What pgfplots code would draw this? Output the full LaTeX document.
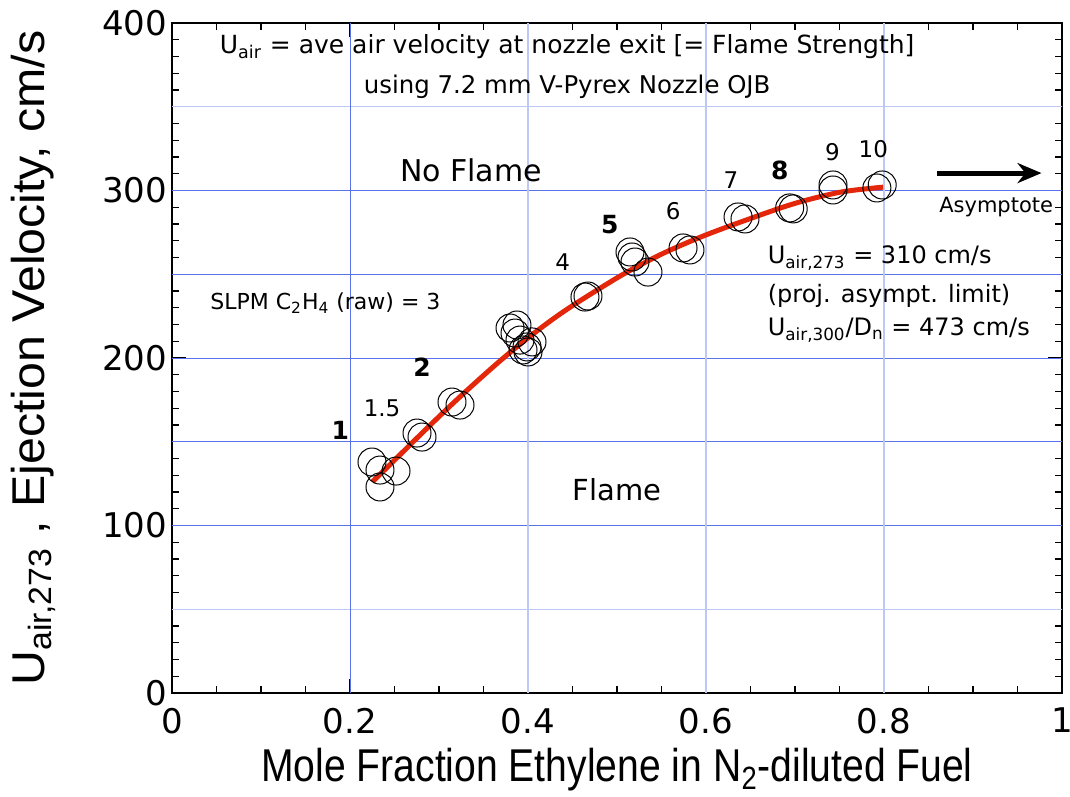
\documentclass[border=0pt]{standalone}
\usepackage{fontspec}
\setmainfont{DejaVu Sans}
\newfontfamily\labfont{Liberation Sans}
\usepackage{graphicx}
\usepackage{pgfplots}
\pgfplotsset{compat=1.18}
\usetikzlibrary{calc,arrows.meta}

\definecolor{fitred}{RGB}{228,38,10}
\definecolor{gridlight}{RGB}{190,200,245}
\definecolor{griddark}{RGB}{90,115,235}

\newcommand{\fs}[1]{\fontsize{#1}{#1}\selectfont}

\begin{document}
\begin{tikzpicture}
\begin{axis}[
    name=ax,
    scale only axis,
    width=445bp, height=335bp,
    xmin=0, xmax=1, ymin=0, ymax=400,
    axis line style={line width=1bp},
    tick align=inside,
    major tick length=7bp, minor tick length=3.5bp,
    every tick/.style={black, line width=0.6bp},
    xtick={0,0.2,0.4,0.6,0.8,1},
    xticklabels={0,0.2,0.4,0.6,0.8,1},
    minor xtick={0.05,0.1,...,0.96},
    ytick={0,50,...,400},
    yticklabels={0,,100,,200,,300,,400},
    minor ytick={10,20,...,395},
    /pgf/number format/assume math mode=true,
    ticklabel style={font=\fs{17bp}},
    xticklabel style={yshift=-4bp},
    yticklabel style={xshift=1bp},
    xlabel={\scalebox{0.85}[1]{Mole Fraction Ethylene in N\textsubscript{2}-diluted Fuel}},
    ylabel={\scalebox{1.05}[1]{U\textsubscript{air,273} , Ejection Velocity, cm/s}},
    label style={font=\labfont\fs{23bp}},
    xlabel style={at={(axis description cs:0.5,-0.115)}, anchor=center},
    ylabel style={at={(axis description cs:-0.156,0.5)}, anchor=center},
    clip=false,
]

% grid lines
\pgfplotsinvokeforeach{50,350}{
  \draw[gridlight, line width=0.6bp] (axis cs:0,#1) -- (axis cs:1,#1);
}
\pgfplotsinvokeforeach{100,150,200,250,300}{
  \draw[griddark, line width=0.4bp] (axis cs:0,#1) -- (axis cs:1,#1);
}
\pgfplotsinvokeforeach{0.4,0.6,0.8}{
  \draw[gridlight, line width=0.6bp] (axis cs:#1,0) -- (axis cs:#1,400);
}
\draw[griddark, line width=0.4bp] (axis cs:0.2,0) -- (axis cs:0.2,400);

% fitted curve
\addplot[fitred, line width=2.5bp, smooth, no marks] coordinates {
    (0.225,126) (0.25,139) (0.271,150) (0.30,165) (0.33,180) (0.368,198)
    (0.40,212) (0.43,224) (0.458,234) (0.507,250) (0.55,262) (0.593,272)
    (0.638,281) (0.698,292) (0.751,299) (0.799,302)
};

% measured points
\addplot[only marks, mark=o, mark size=7bp, mark options={black, line width=0.5bp}] coordinates {
    (0.2247,137.9) (0.2337,133.1) (0.2337,123.0) (0.2517,132.5)
    (0.2753,155.2) (0.2809,152.8) (0.3146,173.7) (0.3236,171.9)
    (0.3798,217.9) (0.3876,219.7) (0.3854,214.9) (0.3910,210.7)
    (0.3989,206.6) (0.4000,203.6) (0.4045,209.6) (0.3944,204.8)
    (0.4640,236.4) (0.4674,237.0)
    (0.5146,263.3) (0.5169,260.3) (0.5202,257.3) (0.5348,251.3)
    (0.5742,265.7) (0.5820,264.5)
    (0.6360,284.2) (0.6438,283.0)
    (0.6940,289.6) (0.6980,289.0)
    (0.7427,303.3) (0.7427,300.3)
    (0.7920,301.5) (0.7980,303.3)
};

% annotations
\node[font=\fs{12.5bp}] at (axis cs:0.444,385.7) {U\textsubscript{air} = ave air velocity at nozzle exit [= Flame Strength]};
\node[font=\fs{12.2bp}] at (axis cs:0.444,361.8) {using 7.2 mm V-Pyrex Nozzle OJB};
\node[font=\fs{15bp}] at (axis cs:0.336,312.2) {No Flame};
\node[font=\fs{14.5bp}] at (axis cs:0.50,121.2) {Flame};
\node[font=\fs{11bp}, anchor=west, inner sep=0pt] at (axis cs:0.0427,232.8) {SLPM C\textsubscript{2}H\textsubscript{4} (raw) = 3};

\node[font=\fs{12.5bp}\bfseries] at (axis cs:0.189,157) {1};
\node[font=\fs{11.5bp}] at (axis cs:0.236,170) {1.5};
\node[font=\fs{12.5bp}\bfseries] at (axis cs:0.281,194.6) {2};
\node[font=\fs{11.5bp}] at (axis cs:0.439,257.3) {4};
\node[font=\fs{12.5bp}\bfseries] at (axis cs:0.492,279.4) {5};
\node[font=\fs{11.5bp}] at (axis cs:0.563,287.8) {6};
\node[font=\fs{11.5bp}] at (axis cs:0.628,306.3) {7};
\node[font=\fs{12.5bp}\bfseries] at (axis cs:0.683,312.2) {8};
\node[font=\fs{11.5bp}] at (axis cs:0.742,323) {9};
\node[font=\fs{11.5bp}] at (axis cs:0.788,324.8) {10};

\draw[line width=2.5bp, -{Stealth[length=12bp, width=10bp]}] (axis cs:0.86,310.4) -- (axis cs:0.977,310.4);
\node[font=\fs{10.5bp}] at (axis cs:0.926,290.1) {Asymptote};

\node[font=\fs{12bp}, anchor=west, inner sep=0pt] at (axis cs:0.669,259.7) {U\textsubscript{air,273} = 310 cm/s};
\node[font=\fs{12bp}, anchor=west, inner sep=0pt] at (axis cs:0.669,237) {(proj. asympt. limit)};
\node[font=\fs{12bp}, anchor=west, inner sep=0pt] at (axis cs:0.669,216.7) {U\textsubscript{air,300}/D\textsubscript{n} = 473 cm/s};
\end{axis}
\pgfresetboundingbox
\path[use as bounding box] ($(ax.south west)+(-86bp,-52bp)$) rectangle ($(ax.north east)+(4bp,11.5bp)$);
\end{tikzpicture}
\end{document}
